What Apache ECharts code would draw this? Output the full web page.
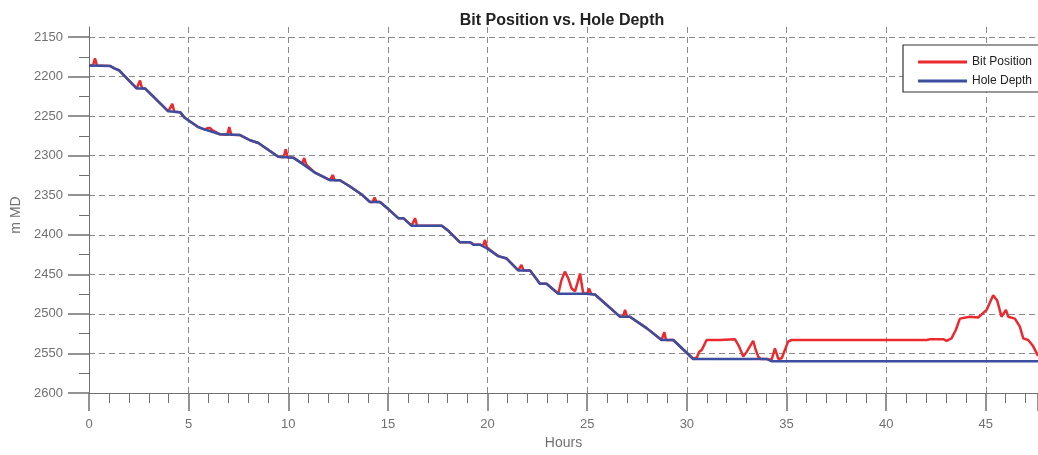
<!DOCTYPE html>
<html>
<head>
<meta charset="utf-8">
<script src="https://cdn.jsdelivr.net/npm/echarts@6/dist/echarts.min.js"></script>
<style>html,body{margin:0;padding:0;background:#fff}#c{width:1038px;height:455px}</style>
</head>
<body>
<div id="c"></div>
<script>
var titleText = 'Bit Position vs. Hole Depth';
var seriesNames = ['Bit Position', 'Hole Depth'];
var xTickMax = 47.62;
var yMin = 2150, yMax = 2600;

var holeHours = [0.0, 1.05, 1.3, 1.5, 2.39, 2.81, 3.98, 4.57, 4.82, 5.49, 5.82, 6.57, 7.58, 8.08, 8.5, 9.08, 9.5, 10.25, 10.75, 11.34, 12.09, 12.59, 13.1, 13.68, 14.1, 14.6, 15.02, 15.52, 15.77, 16.19, 17.7, 18.03, 18.62, 19.12, 19.3, 19.62, 19.95, 20.54, 20.96, 21.54, 22.13, 22.63, 22.96, 23.55, 24.89, 25.39, 26.64, 27.14, 27.98, 28.73, 29.32, 30.32, 34.0, 34.26, 47.62];
var holeDepth = [2186, 2186.5, 2190, 2192, 2215, 2215, 2244, 2245, 2252.5, 2264, 2267, 2273, 2274, 2280.5, 2284, 2294, 2301.5, 2302.5, 2311, 2321.5, 2331, 2331, 2339, 2349, 2358.5, 2358.5, 2367.5, 2379, 2379, 2388.5, 2388.5, 2395, 2409.5, 2409.5, 2412.5, 2412.5, 2417, 2427, 2430, 2445, 2445, 2462, 2462, 2474.5, 2474.5, 2475.5, 2503.5, 2503.5, 2518, 2533, 2533, 2557, 2557, 2560, 2560];

var bitHours = [0.0, 0.2, 0.3, 0.4, 1.05, 1.3, 1.5, 2.39, 2.46, 2.56, 2.66, 2.81, 3.98, 4.08, 4.18, 4.28, 4.57, 4.82, 5.49, 5.82, 5.95, 6.07, 6.2, 6.57, 6.94, 7.04, 7.14, 7.58, 8.08, 8.5, 9.08, 9.5, 9.77, 9.87, 9.97, 10.25, 10.7, 10.8, 10.9, 11.34, 12.09, 12.13, 12.23, 12.33, 12.59, 13.1, 13.68, 14.1, 14.23, 14.33, 14.43, 14.6, 15.02, 15.52, 15.77, 16.19, 16.26, 16.36, 16.46, 17.0, 17.08, 17.16, 17.7, 18.03, 18.62, 19.12, 19.3, 19.62, 19.77, 19.87, 19.97, 20.54, 20.96, 21.54, 21.6, 21.7, 21.8, 22.13, 22.63, 22.96, 23.55, 23.7, 23.88, 24.05, 24.22, 24.39, 24.52, 24.64, 24.72, 24.8, 25.0, 25.1, 25.2, 25.39, 26.64, 26.8, 26.9, 27.0, 27.14, 27.98, 28.73, 28.8, 28.87, 28.95, 29.32, 30.32, 30.5, 30.62, 30.75, 30.99, 31.66, 32.41, 32.6, 32.83, 33.0, 33.33, 33.45, 33.58, 33.7, 34.0, 34.25, 34.42, 34.59, 34.76, 35.08, 35.25, 42.03, 42.2, 42.87, 43.03, 43.28, 43.5, 43.7, 44.2, 44.62, 45.04, 45.37, 45.57, 45.79, 46.01, 46.13, 46.46, 46.71, 46.88, 47.13, 47.38, 47.62];
var bitDepth = [2186, 2186, 2177, 2186, 2186.5, 2190, 2192, 2215, 2215, 2205, 2215, 2215, 2244, 2244.5, 2234.5, 2244.5, 2245, 2252.5, 2264, 2267, 2265, 2265, 2268, 2273, 2273.5, 2264, 2273.5, 2274, 2280.5, 2284, 2294, 2301.5, 2302, 2292, 2302, 2302.5, 2310, 2303, 2311.5, 2321.5, 2331, 2331, 2324.5, 2331, 2331, 2339, 2349, 2358.5, 2358.5, 2353, 2358.5, 2358.5, 2367.5, 2379, 2379, 2388.5, 2388.5, 2379, 2388.5, 2388.5, 2386, 2388.5, 2388.5, 2395, 2409.5, 2409.5, 2412.5, 2412.5, 2414, 2406.6, 2416, 2427, 2430, 2445, 2445, 2438, 2445, 2445, 2462, 2462, 2474.5, 2458, 2446.6, 2455, 2468, 2471.5, 2460, 2449, 2462, 2474, 2474.5, 2468, 2475, 2475.5, 2503.5, 2503.5, 2495, 2503.5, 2503.5, 2518, 2533, 2533, 2523, 2533, 2533, 2557, 2555, 2548, 2545.5, 2533, 2533, 2532, 2540, 2554, 2548, 2534, 2545, 2554, 2557, 2557, 2558, 2543.5, 2557, 2556, 2535, 2533, 2533, 2532, 2532, 2534, 2531, 2520, 2506, 2503.5, 2504.5, 2495, 2476.5, 2483, 2503.6, 2495, 2503.6, 2506, 2516, 2531, 2533, 2541, 2553];

function pairs(xs, ys) { return xs.map(function (x, i) { return [x, ys[i]]; }); }

var FONT = 'Liberation Sans, Arial, sans-serif';
var AXIS_COLOR = '#707070';
var GRID_LINE = { show: true, lineStyle: { color: '#8a8a8a', type: [6, 4], width: 1 } };
var chart = echarts.init(document.getElementById('c'), null, { renderer: 'canvas' });
chart.setOption({
  animation: false,
  backgroundColor: '#ffffff',
  title: {
    text: titleText, left: 557, top: 8, textAlign: 'center',
    textStyle: { fontFamily: FONT, fontSize: 16, fontWeight: 'bold', color: '#222' }
  },
  graphic: [{
    type: 'rect', z: 10, shape: { x: 903, y: 45, width: 200, height: 47 },
    style: { fill: '#fff', stroke: '#333', lineWidth: 1.2 }
  }],
  legend: {
    z: 20, orient: 'vertical', left: 913, top: 51, itemWidth: 49, itemHeight: 3, itemGap: 7,
    textStyle: { fontFamily: FONT, fontSize: 12, color: '#222' },
    data: [{ name: seriesNames[0], icon: 'rect' }, { name: seriesNames[1], icon: 'rect' }]
  },
  grid: [
    { left: 89, right: 0, top: 37, bottom: 60, containLabel: false },
    { left: 89, right: 0, top: 27, height: 10, containLabel: false }
  ],
  xAxis: [{
    type: 'value', gridIndex: 0, min: 0, max: xTickMax, interval: 5,
    name: 'Hours', nameLocation: 'middle', nameGap: 43,
    nameTextStyle: { fontFamily: FONT, fontSize: 14, color: '#707070' },
    axisLine: { onZero: false, lineStyle: { color: AXIS_COLOR, width: 1 } },
    axisTick: { length: 18, lineStyle: { color: AXIS_COLOR, width: 1.5 } },
    minorTick: { show: true, splitNumber: 5, length: 10, lineStyle: { color: AXIS_COLOR, width: 1 } },
    axisLabel: { margin: 25, fontFamily: FONT, fontSize: 13, color: '#707070', showMaxLabel: false,
      formatter: function (v) { return String(v); } },
    splitLine: GRID_LINE
  }, {
    type: 'value', gridIndex: 1, min: 0, max: xTickMax, interval: 5,
    axisLine: { show: false }, axisTick: { show: false }, axisLabel: { show: false },
    splitLine: GRID_LINE
  }],
  yAxis: [{
    type: 'value', gridIndex: 0, min: yMin, max: yMax, interval: 50, inverse: true,
    name: 'm MD', nameLocation: 'middle', nameGap: 64,
    nameTextStyle: { fontFamily: FONT, fontSize: 14, color: '#707070' },
    axisLine: { show: true, onZero: false, lineStyle: { color: AXIS_COLOR, width: 1 } },
    axisTick: { show: true, length: 21, lineStyle: { color: AXIS_COLOR, width: 1.5 } },
    minorTick: { show: true, splitNumber: 2, length: 10, lineStyle: { color: AXIS_COLOR, width: 1 } },
    axisLabel: { margin: 26, fontFamily: FONT, fontSize: 13, color: '#707070',
      formatter: function (v) { return String(v); } },
    splitLine: GRID_LINE
  }, {
    type: 'value', gridIndex: 1, min: 0, max: 1,
    axisLine: { show: true, onZero: false, lineStyle: { color: AXIS_COLOR, width: 1 } },
    axisTick: { show: false }, axisLabel: { show: false }, splitLine: { show: false }
  }],
  series: [{
    name: seriesNames[0], type: 'line', xAxisIndex: 0, yAxisIndex: 0,
    data: pairs(bitHours, bitDepth), showSymbol: false, symbol: 'none',
    lineStyle: { color: '#ea2a2e', width: 2.5 }, itemStyle: { color: '#ea2a2e' }, z: 3
  }, {
    name: seriesNames[1], type: 'line', xAxisIndex: 0, yAxisIndex: 0,
    data: pairs(holeHours, holeDepth), showSymbol: false, symbol: 'none',
    lineStyle: { color: '#3b4ea0', width: 2.5 }, itemStyle: { color: '#3b4ea0' }, z: 4
  }]
});
</script>
</body>
</html>
